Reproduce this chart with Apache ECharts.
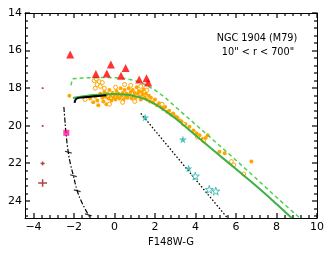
<!DOCTYPE html>
<html><head><meta charset="utf-8">
<script src="https://cdn.jsdelivr.net/npm/echarts@6/dist/echarts.min.js"></script>
<style>html,body{margin:0;padding:0;background:#fff}#c{width:332px;height:256px}</style>
</head><body><div id="c"></div>
<script>
const xTicks = [-4,-2,0,2,4,6,8,10];
const yTicks = [14,16,18,20,22,24];
const xLabel = 'F148W-G';
const titleLines = ['NGC 1904 (M79)', '10" < r < 700"'];

const redTriangles = [[-2.19,16.2],[-0.92,17.24],[-0.38,17.22],[-0.18,16.74],[0.32,17.34],[0.55,16.92],[1.22,17.53],[1.58,17.47],[1.66,17.7]];
const orangeFilled = [[-2.23,18.4],
 [-1.2,18.55],[-1.05,18.75],[-0.95,18.45],[-0.85,18.65],[-0.8,18.9],[-0.7,18.3],[-0.6,18.5],[-0.55,18.7],[-0.5,18.2],[-0.45,18.45],[-0.4,18.85],[-0.35,18.3],[-0.3,18.55],[-0.25,18.1],[-0.2,18.4],[-0.15,18.65],[-0.1,18.25],[-0.05,18.5],[0,18.35],[0.05,18.6],[0.1,18.15],[0.15,18.45],[0.2,18.3],[0.25,18.55],[0.3,18.0],[0.35,18.4],[0.4,18.25],[0.45,18.6],[0.5,18.1],[0.55,18.45],[0.6,18.3],[0.65,18.5],[0.7,18.0],[0.75,18.35],[0.8,18.2],[0.85,18.55],[0.9,18.1],[0.95,18.4],[1.0,18.25],[1.05,18.5],[1.1,17.95],[1.15,18.3],[1.2,18.15],[1.25,18.45],[1.3,18.6],[1.35,18.2],[1.4,18.35],[1.45,18.05],[1.5,18.5],[1.55,18.3],[1.6,18.6],[1.7,18.4],[1.75,18.7],[1.8,18.5],[1.9,18.75],[2.0,18.6],[2.1,18.9],[2.2,18.8],[2.3,19.0],[2.4,19.1],[2.5,19.0],[2.6,19.25],[2.7,19.2],[2.8,19.4],[2.9,19.35],[3.0,19.5],[3.1,19.55],[3.2,19.7],[3.3,19.75],[3.5,19.9],[3.7,20.05],[3.9,20.25],[4.05,20.4],[4.2,20.5],[4.35,20.7],[4.5,20.65],[4.6,20.5],[5.18,21.38],[5.44,21.46],[6.76,21.9]];
const orangeOpen = [[-1.0,17.6],[-0.9,17.5],[-0.85,17.8],[-0.75,17.65],[-0.7,17.9],[-0.6,17.7],[-0.95,18.0],[-0.5,18.0],[0.05,17.95],[0.5,17.8],[0.8,17.85],[1.3,17.9],[1.6,18.1],[-1.45,18.6],[-0.25,18.85],[0.4,18.75],[1.0,18.7],[2.35,18.85],[3.4,19.9],[4.1,20.6],[4.4,20.8],[5.77,21.9],[5.89,22.08],[6.38,22.56]];
const tealFilled = [[1.51,19.55],[3.38,20.72],[3.66,22.26]];
const tealOpen = [[3.99,22.67],[4.68,23.38],[5.0,23.47]];
const magentaSquare = [[-2.38,20.37]];
const greenSolid = [[-2.05,18.52],[-1.5,18.42],[-1.0,18.36],[-0.5,18.33],[0,18.31],[0.5,18.33],[1.0,18.42],[1.5,18.58],[2.0,18.85],[2.5,19.2],[3.0,19.6],[4.0,20.5],[5.0,21.4],[6.0,22.3],[7.0,23.2],[8.0,24.15],[8.75,24.9]];
const greenDashed = [[-2.15,17.85],[-2.08,17.5],[-1.5,17.45],[-1.0,17.44],[-0.5,17.43],[0,17.44],[0.5,17.48],[1.0,17.58],[1.5,17.8],[2.0,18.1],[2.5,18.5],[3.0,18.98],[4.0,19.93],[5.0,20.87],[6.0,21.83],[7.0,22.8],[8.0,23.8],[9.15,24.9]];
const blackSolid = [[-1.97,18.78],[-1.93,18.62],[-1.85,18.54],[-1.6,18.49],[-1.2,18.45],[-0.8,18.41],[-0.4,18.37]];
const blackDotted = [[1.3,19.34],[2.0,20.25],[3.0,21.55],[4.0,22.85],[5.0,24.15],[5.6,24.93]];
const blackDashDot = [[-2.5,19.0],[-2.45,19.7],[-2.4,20.35],[-2.28,21.43],[-2.17,22.05],[-2.03,22.65],[-1.84,23.45],[-1.6,24.1],[-1.2,24.9]];
const dashDotMarks = [[-2.28,21.4],[-2.03,22.65],[-1.84,23.45],[-1.29,24.73]];
const errorBars = [[-3.55,18.0,0.04,0.04],[-3.55,20.0,0.04,0.04],[-3.55,22.0,0.1,0.1],[-3.55,23.04,0.22,0.2]];

const XMIN=-4.42, XMAX=10, YMIN=14, YMAX=24.9;
function minorOf(ticks, lo, hi){
  const out=[];
  for(let i=0;i<ticks.length-1;i++){const a=ticks[i],b=ticks[i+1];for(let k=1;k<5;k++)out.push(+(a+(b-a)*k/5).toFixed(3));}
  const st=(ticks[1]-ticks[0])/5;
  for(let k=1;k<5;k++){const v=+(ticks[0]-st*k).toFixed(3); if(v>lo+0.05) out.push(v);}
  for(let k=1;k<5;k++){const v=+(ticks[ticks.length-1]+st*k).toFixed(3); if(v<hi-0.05) out.push(v);}
  return out;
}
const xMinor=minorOf(xTicks,XMIN,XMAX), yMinor=minorOf(yTicks,YMIN,YMAX);
const xTickData=xTicks.map(v=>[v,18,5]).concat(xMinor.map(v=>[v,18,3]));
const yTickData=yTicks.map(v=>[0,v,5]).concat(yMinor.map(v=>[0,v,3]));
const FONT='DejaVu Sans';
function xa(pos, labels){
  return {type:'value',min:XMIN,max:XMAX,position:pos,
    axisLine:{show:true,onZero:false,lineStyle:{color:'#000',width:1}},
    axisTick:{show:false},
    axisLabel:{show:labels,customValues:xTicks,color:'#000',fontFamily:FONT,fontSize:11,margin:4,formatter:v=>v<0?'\u2212'+(-v):String(v)},
    splitLine:{show:false},
    name: labels?xLabel:'',nameLocation:'middle',nameGap:18,nameTextStyle:{color:'#000',fontFamily:FONT,fontSize:10}};
}
function ya(pos, labels){
  return {type:'value',min:YMIN,max:YMAX,inverse:true,position:pos,
    axisLine:{show:true,onZero:false,lineStyle:{color:'#000',width:1}},
    axisTick:{show:false},
    axisLabel:{show:labels,customValues:yTicks,color:'#000',fontFamily:FONT,fontSize:11,margin:3},
    splitLine:{show:false}};
}
function tickSeries(data, dir){
  return {type:'custom',data:data,z:10,silent:true,clip:false,encode:{x:0,y:1},renderItem:function(params,api){
    const len=api.value(2), v0=api.value(0), v1=api.value(1);
    const st={fill:'#000'};
    if(dir==='x'){
      const px=Math.round(api.coord([v0,v1])[0]);
      const yt=Math.round(api.coord([v0,YMIN])[1]);
      const yb=Math.round(api.coord([v0,YMAX])[1]);
      return {type:'group',children:[
        {type:'rect',shape:{x:px-0.6,y:yb-len,width:1.2,height:len},style:st},
        {type:'rect',shape:{x:px-0.6,y:yt,width:1.2,height:len},style:st}]};
    } else {
      const py=Math.round(api.coord([v0,v1])[1]);
      const xl=Math.round(api.coord([XMIN,v1])[0]);
      const xr=Math.round(api.coord([XMAX,v1])[0]);
      return {type:'group',children:[
        {type:'rect',shape:{x:xl,y:py-0.6,width:len,height:1.2},style:st},
        {type:'rect',shape:{x:xr-len,y:py-0.6,width:len,height:1.2},style:st}]};
    }
  }};
}
const star='path://M50,0 L61,35 L98,35 L68,57 L79,91 L50,70 L21,91 L32,57 L2,35 L39,35 Z';
const chart=echarts.init(document.getElementById('c'),null,{renderer:'canvas'});
chart.setOption({
  animation:false,
  grid:{left:25,right:15,top:13,bottom:38},
  xAxis:[xa('bottom',true),xa('top',false)],
  yAxis:[ya('left',true),ya('right',false)],
  graphic:[
    {type:'text',x:257,y:38,style:{text:titleLines[0],font:'9.7px "DejaVu Sans"',fill:'#000',align:'center',verticalAlign:'middle'}},
    {type:'text',x:258,y:52,style:{text:titleLines[1],font:'9.7px "DejaVu Sans"',fill:'#000',align:'center',verticalAlign:'middle'}}
  ],
  series:[
    {type:'scatter',data:orangeFilled,symbol:'circle',symbolSize:4,itemStyle:{color:'#ffa500',opacity:1},z:3},
    {type:'scatter',data:orangeOpen,symbol:'circle',symbolSize:4,itemStyle:{color:'#fff',borderColor:'#ffa500',borderWidth:1,opacity:1},z:3},
    {type:'line',data:greenDashed,showSymbol:false,smooth:false,lineStyle:{color:'#4fd14f',width:1.5,type:[4,3]},z:4},
    {type:'line',data:greenSolid,showSymbol:false,smooth:true,lineStyle:{color:'#3cb043',width:2},z:4},
    {type:'line',data:blackSolid,showSymbol:false,smooth:true,lineStyle:{color:'#000',width:2},z:5},
    {type:'line',data:blackDotted,showSymbol:false,lineStyle:{color:'#000',width:1.3,type:[1.5,2]},z:4},
    {type:'line',data:blackDashDot,showSymbol:false,smooth:true,lineStyle:{color:'#000',width:1.2,type:[5,2,1.5,2]},z:4},
    {type:'scatter',data:dashDotMarks,symbol:'rect',symbolSize:[7,1.2],symbolRotate:-15,itemStyle:{color:'#000'},z:5},
    {type:'scatter',data:redTriangles,symbol:'triangle',symbolSize:8,itemStyle:{color:'#ff0000'},z:6},
    {type:'scatter',data:tealFilled,symbol:star,symbolSize:8,itemStyle:{color:'#20b2aa'},z:6},
    {type:'scatter',data:tealOpen,symbol:star,symbolSize:8,itemStyle:{color:'#fff',borderColor:'#20b2aa',borderWidth:1},z:6},
    {type:'scatter',data:magentaSquare,symbol:'rect',symbolSize:6,itemStyle:{color:'#ff1493'},z:6},
    {type:'custom',data:errorBars,z:6,renderItem:function(params,api){
      const x=api.value(0),y=api.value(1),ex=api.value(2),ey=api.value(3);
      const l=api.coord([x-ex,y]),r=api.coord([x+ex,y]),t=api.coord([x,y-ey]),b=api.coord([x,y+ey]);
      const st={stroke:'#b84040',lineWidth:1.5};
      return {type:'group',children:[
        {type:'line',shape:{x1:l[0],y1:l[1],x2:r[0],y2:r[1]},style:st},
        {type:'line',shape:{x1:t[0],y1:t[1],x2:b[0],y2:b[1]},style:st}]};
    }},
    tickSeries(xTickData,'x'),
    tickSeries(yTickData,'y')
  ]
});
</script></body></html>
